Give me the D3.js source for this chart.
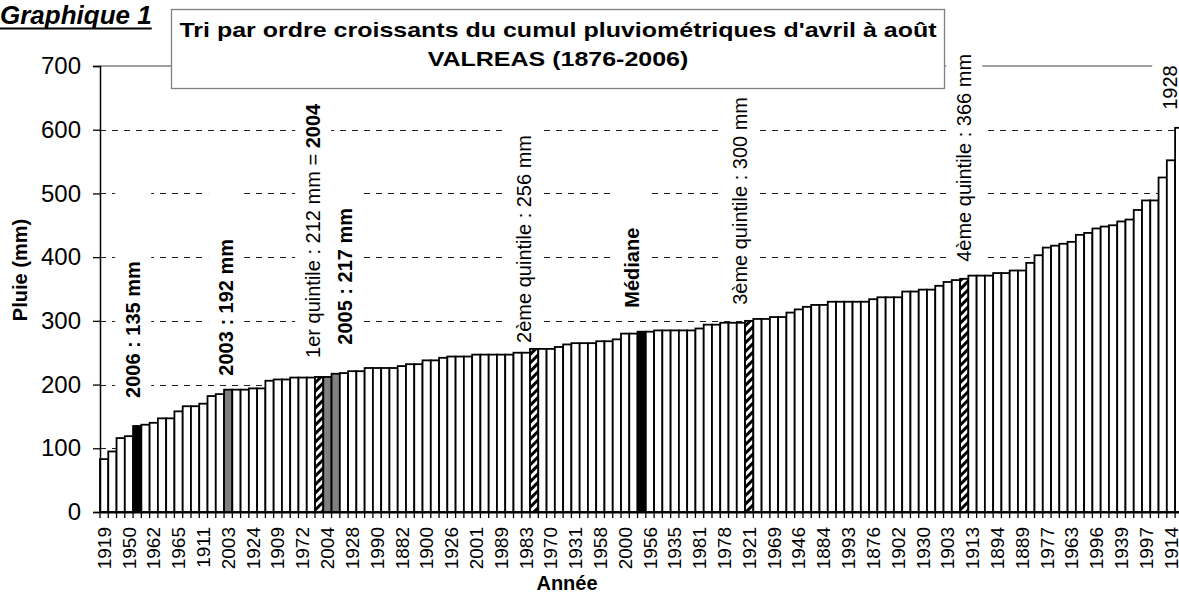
<!DOCTYPE html>
<html>
<head>
<meta charset="utf-8">
<script src="https://cdn.jsdelivr.net/npm/d3@7"></script>
<style>
  body { margin: 0; background: #fff; }
  svg { display: block; font-family: Arial, "Liberation Sans", sans-serif; }
</style>
</head>
<body>
<div id="chart"></div>
<script>
// cumul pluvio avril-aout, trie par ordre croissant (131 annees, 1876-2006)
const rainfall = [
  83, 95, 116, 119, 135, 137, 140, 147, 147, 158,
  166, 166, 170, 182, 185, 192, 192, 192, 194, 194,
  206, 208, 208, 211, 211, 211, 212, 212, 217, 218,
  221, 221, 226, 226, 226, 226, 229, 232, 232, 238,
  238, 242, 244, 244, 244, 247, 247, 247, 247, 247,
  250, 250, 256, 256, 256, 259, 263, 265, 265, 265,
  268, 268, 271, 280, 280, 283, 283, 285, 285, 285,
  285, 285, 288, 294, 294, 297, 297, 297, 300, 303,
  303, 306, 306, 313, 318, 322, 325, 325, 330, 330,
  330, 330, 330, 334, 337, 337, 337, 346, 346, 349,
  349, 355, 361, 364, 366, 371, 371, 371, 375, 375,
  379, 379, 391, 403, 415, 418, 421, 424, 435, 438,
  445, 448, 450, 456, 459, 474, 489, 489, 525, 552,
  603
];

// one label every 3 bars
const tickYears = [
  "1919", "1950", "1962", "1965", "1911", "2003", "1924", "1909", "1972", "2004",
  "1928", "1990", "1882", "1900", "1926", "2001", "1989", "1983", "1970", "1931",
  "1958", "2000", "1956", "1935", "1981", "1978", "1921", "1969", "1946", "1884",
  "1993", "1876", "1902", "1930", "1903", "1913", "1894", "1889", "1977", "1963",
  "1996", "1939", "1997", "1914"
];

const yTicks = [0, 100, 200, 300, 400, 500, 600, 700];

// highlighted bars (index in sorted order)
const blackBars = [4, 65];
const greyBars = [15, 27, 28];
const hatchBars = [26, 52, 78, 104];

// annotations over bars
const noteBars = [4, 15, 26, 28, 52, 65, 78, 104, 130];
const noteTexts = [
  [["2006 : 135 mm", true]],
  [["2003 : 192 mm", true]],
  [["1er quintile : 212 mm = ", false], ["2004", true]],
  [["2005 : 217 mm", true]],
  [["2ème quintile : 256 mm", false]],
  [["Médiane", true]],
  [["3ème quintile : 300 mm", false]],
  [["4ème quintile : 366 mm", false]],
  [["1928", false]]
];

const W = 1179, H = 594;
const plotLeft = 100, barW = 8.27, plotTop = 66, plotBottom = 512;

const svg = d3.select("#chart").append("svg")
  .attr("width", W)
  .attr("height", H);

svg.append("defs").append("pattern")
  .attr("id", "hatch")
  .attr("patternUnits", "userSpaceOnUse")
  .attr("width", 6)
  .attr("height", 6)
  .attr("patternTransform", "rotate(45)")
  .call(p => {
    p.append("rect").attr("width", 6).attr("height", 6).attr("fill", "#fff");
    p.append("rect").attr("width", 3).attr("height", 6).attr("fill", "#000");
  });

const x = d3.scaleBand()
  .domain(d3.range(rainfall.length))
  .range([plotLeft, plotLeft + rainfall.length * barW])
  .padding(0);

const y = d3.scaleLinear()
  .domain([0, 700])
  .range([plotBottom, plotTop]);

// gridlines
svg.append("g")
  .selectAll("line")
  .data(yTicks.filter(d => d > 0 && d < 700))
  .join("line")
  .attr("x1", plotLeft)
  .attr("x2", x.range()[1])
  .attr("y1", d => Math.round(y(d)) + 0.5)
  .attr("y2", d => Math.round(y(d)) + 0.5)
  .attr("stroke", "#222")
  .attr("stroke-dasharray", "6,6");

// plot area top border
svg.append("line")
  .attr("x1", plotLeft).attr("x2", x.range()[1])
  .attr("y1", y(700)).attr("y2", y(700))
  .attr("stroke", "#808080").attr("stroke-width", 1.3);

// annotation layout: horizontal shift from bar centre, gap above bar top
const noteLayout = [
  {dx: -4, gap: 28}, {dx: -2, gap: 14}, {dx: -6, gap: 19}, {dx: 9, gap: 29},
  {dx: -10, gap: 6}, {dx: -10, gap: 24}, {dx: -9, gap: 16}, {dx: 0, gap: 17},
  {dx: -9, gap: 18}
];

const boxG = svg.append("g");

// bars
function barFill(i) {
  if (blackBars.includes(i)) return "#000";
  if (greyBars.includes(i)) return "#808080";
  if (hatchBars.includes(i)) return "url(#hatch)";
  return "#fff";
}

svg.append("g")
  .selectAll("rect")
  .data(rainfall)
  .join("rect")
  .attr("x", (d, i) => x(i))
  .attr("y", d => y(d))
  .attr("width", x.bandwidth())
  .attr("height", d => y(0) - y(d))
  .attr("fill", (d, i) => barFill(i))
  .attr("stroke", "#000")
  .attr("stroke-width", 1.8);

// x axis
const xAxis = svg.append("g")
  .attr("transform", `translate(0, ${plotBottom})`)
  .call(d3.axisBottom(x)
    .tickValues(d3.range(0, rainfall.length, 3))
    .tickFormat(i => tickYears[i / 3])
    .tickSize(0));
xAxis.select(".domain").attr("stroke", "#000").attr("stroke-width", 2);
xAxis.selectAll("text")
  .attr("transform", "rotate(-90)")
  .attr("text-anchor", "end")
  .attr("x", -15)
  .attr("y", 0)
  .attr("dy", "0.35em")
  .attr("font-size", 19)
  .attr("fill", "#000")
  .attr("font-family", null);

// tick marks between every bar
svg.append("g")
  .selectAll("line")
  .data(d3.range(rainfall.length + 1))
  .join("line")
  .attr("x1", i => plotLeft + i * x.step())
  .attr("x2", i => plotLeft + i * x.step())
  .attr("y1", plotBottom)
  .attr("y2", plotBottom + 6)
  .attr("stroke", "#000")
  .attr("stroke-width", 1.3);

// y axis
const yAxis = svg.append("g")
  .attr("transform", `translate(${plotLeft}, 0)`)
  .call(d3.axisLeft(y).tickValues(yTicks).tickSize(7).tickPadding(12));
yAxis.select(".domain").attr("stroke", "#000").attr("stroke-width", 1.5);
yAxis.selectAll(".tick line").attr("stroke", "#000").attr("stroke-width", 1.3);
yAxis.selectAll("text")
  .attr("font-size", 24)
  .attr("fill", "#000")
  .attr("font-family", null);

// annotations
noteBars.forEach((b, k) => {
  const cx = x(b) + x.bandwidth() / 2 + noteLayout[k].dx;
  const by = y(rainfall[b]) - noteLayout[k].gap;
  const t = svg.append("text")
    .attr("transform", `translate(${cx}, ${by}) rotate(-90)`)
    .attr("dy", "0.35em")
    .attr("font-size", 20)
    .attr("fill", "#000");
  noteTexts[k].forEach(([s, bold]) => {
    t.append("tspan").text(s).attr("font-weight", bold ? "bold" : "normal");
  });
  const len = t.node().getComputedTextLength();
  boxG.append("rect")
    .attr("x", cx - 18)
    .attr("width", 36)
    .attr("y", by - len - 75)
    .attr("height", len + 77)
    .attr("fill", "#fff");
});

// axis titles
svg.append("text")
  .attr("transform", "translate(27, 270) rotate(-90)")
  .attr("text-anchor", "middle")
  .attr("font-size", 20)
  .attr("font-weight", "bold")
  .text("Pluie (mm)");

svg.append("text")
  .attr("x", 567)
  .attr("y", 590)
  .attr("text-anchor", "middle")
  .attr("font-size", 20)
  .attr("font-weight", "bold")
  .text("Année");

// title box
svg.append("rect")
  .attr("x", 171.5)
  .attr("y", 9.5)
  .attr("width", 773)
  .attr("height", 79)
  .attr("fill", "#fff")
  .attr("stroke", "#808080")
  .attr("stroke-width", 1.3);

// the title is drawn a bit wide in the original
const titleLines = ["Tri par ordre croissants du cumul pluviométriques d'avril à août", "VALREAS (1876-2006)"];
titleLines.forEach((s, k) => {
  svg.append("text")
    .attr("transform", `translate(558, ${37 + k * 29}) scale(1.19, 1)`)
    .attr("text-anchor", "middle")
    .attr("font-size", 21)
    .attr("font-weight", "bold")
    .text(s);
});

const g1 = svg.append("text")
  .attr("x", 0)
  .attr("y", 24)
  .attr("font-size", 26)
  .attr("font-weight", "bold")
  .attr("font-style", "italic")
  .text("Graphique 1");
svg.append("line")
  .attr("x1", 0)
  .attr("x2", g1.node().getComputedTextLength())
  .attr("y1", 28.5)
  .attr("y2", 28.5)
  .attr("stroke", "#000")
  .attr("stroke-width", 2);
</script>
</body>
</html>
